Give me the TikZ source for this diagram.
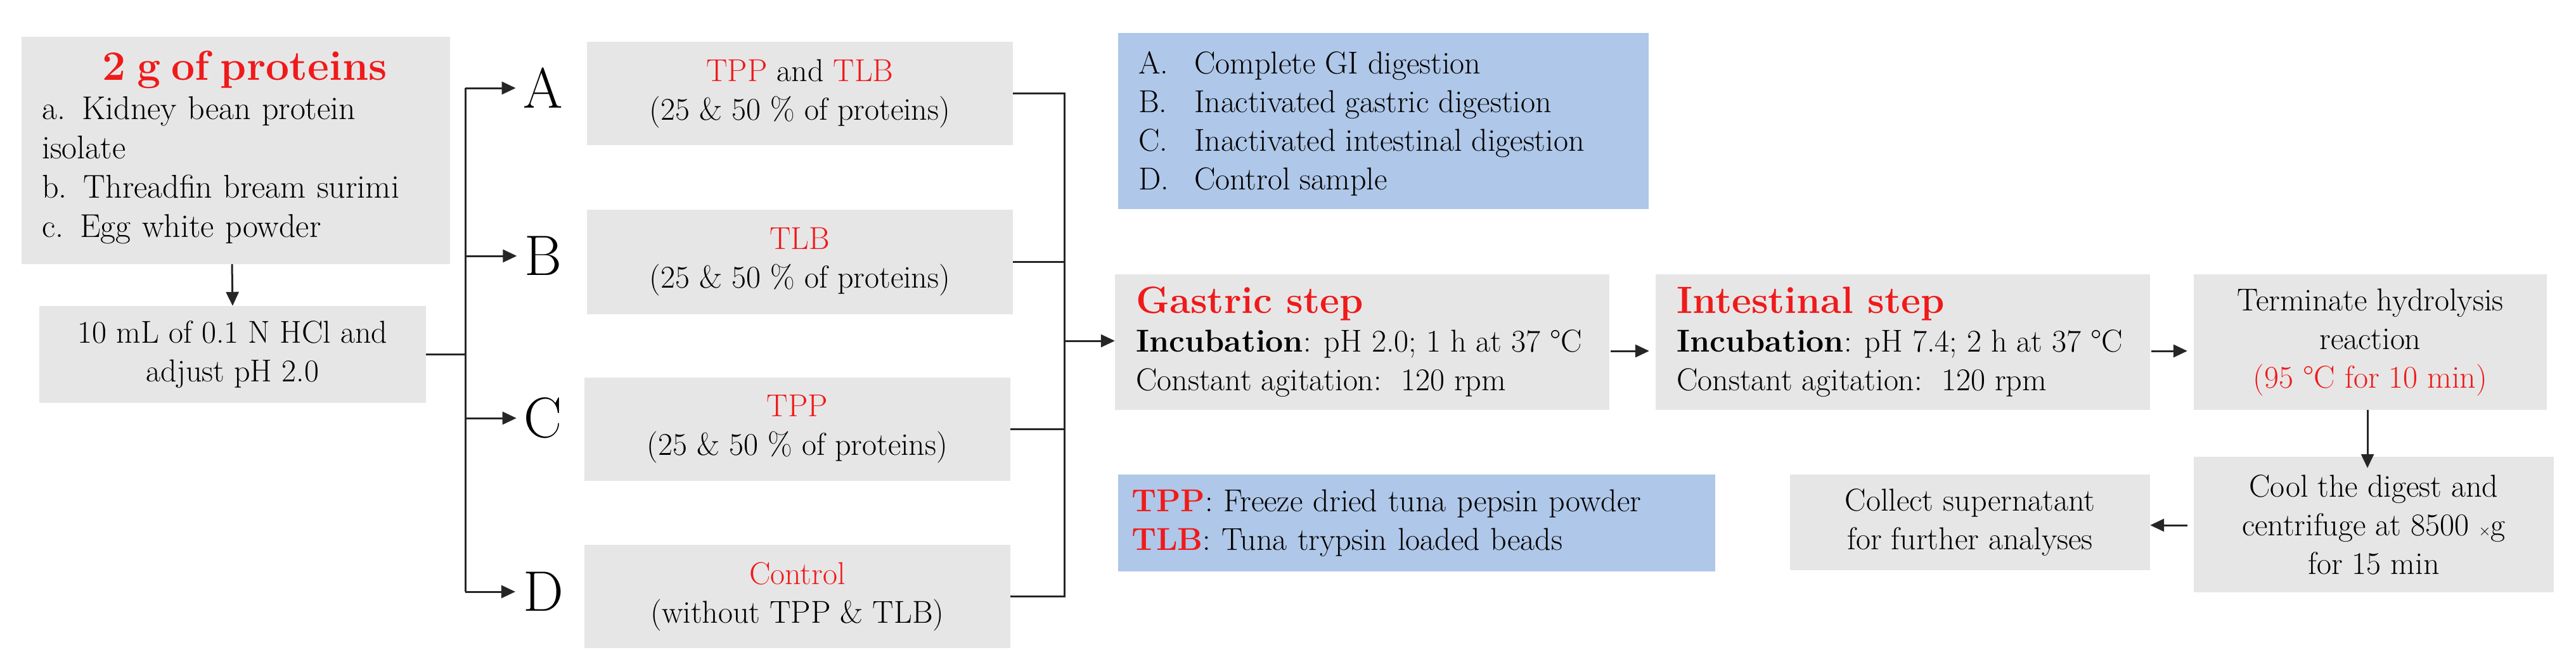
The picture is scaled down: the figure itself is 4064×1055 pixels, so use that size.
\documentclass[tikz,border=0pt]{standalone}
\usetikzlibrary{arrows.meta}
\definecolor{boxgray}{HTML}{E7E6E6}
\definecolor{boxblue}{HTML}{AFC7E8}
\definecolor{myred}{HTML}{F01A1A}
\newcommand{\fs}{\fontsize{50}{61}\selectfont}
\begin{document}
\begin{tikzpicture}[x=1pt,y=-1pt,
  box/.style={fill=boxgray,draw=none,inner sep=0pt,align=center,font=\fs},
  lbox/.style={fill=boxblue,draw=none,inner sep=0pt,font=\fs},
  letter/.style={font=\fontsize{90}{90}\selectfont,inner sep=0pt},
  conn/.style={line width=3pt,draw=black!85},
  arr/.style={conn,-{Triangle[length=22pt,width=20pt]}},
  red/.style={text=myred}]
\useasboundingbox (0,0) rectangle (4064,1055);
% left column
\node[box,minimum width=676,minimum height=359] (prot) at (372,237.5) {};
\node[font=\fontsize{52}{62}\selectfont,align=left,text width=640,anchor=north west,inner sep=0pt] (prott) at (66,80)
 {\centering{\fontsize{66}{74}\selectfont\bfseries\color{myred}2 g of proteins}\par
 \raggedright a. Kidney bean protein\\isolate\\b. Threadfin bream surimi\\c. Egg white powder};
\node[box,minimum width=610,minimum height=153] (hcl) at (367,559.5) {10 mL of 0.1 N HCl and\\adjust pH 2.0};
% letters
\node[letter] (la) at (857,139) {A};
\node[letter] (lb) at (857,404) {B};
\node[letter] (lc) at (857,660) {C};
\node[letter] (ld) at (857,934) {D};
% treatment boxes
\node[box,minimum width=672,minimum height=163] (ba) at (1262,147.5) {{\color{myred}TPP} and {\color{myred}TLB}\\(25 \& 50 \% of proteins)};
\node[box,minimum width=672,minimum height=165] (bb) at (1262,413.5) {{\color{myred}TLB}\\(25 \& 50 \% of proteins)};
\node[box,minimum width=672,minimum height=163] (bc) at (1258,677.5) {{\color{myred}TPP}\\(25 \& 50 \% of proteins)};
\node[box,minimum width=672,minimum height=163] (bd) at (1258,941.5) {{\color{myred}Control}\\(without TPP \& TLB)};
% legends
\node[lbox,minimum width=837,minimum height=278,anchor=center] (leg) at (2182.5,191) {};
\node[font=\fs,anchor=north west,inner sep=0pt] (legt) at (1796,74) {\begin{tabular}{@{}l@{\hspace{0.8em}}l@{}}A.&Complete GI digestion\\B.&Inactivated gastric digestion\\C.&Inactivated intestinal digestion\\D.&Control sample\end{tabular}};
\node[lbox,minimum width=942,minimum height=153,text width=900,align=left] (leg2) at (2235,825.5)
 {{\bfseries\color{myred}TPP}: Freeze dried tuna pepsin powder\\{\bfseries\color{myred}TLB}: Tuna trypsin loaded beads};
% steps
\node[box,minimum width=780,minimum height=214] (gas) at (2149,540) {};
\node[font=\fs,align=left,anchor=west,inner sep=0pt] at (1792,540)
 {{\fontsize{60}{66}\selectfont\bfseries\color{myred}Gastric step}\\\textbf{Incubation}: pH 2.0; 1 h at 37 \textdegree C\\Constant agitation:\ \ 120 rpm};
\node[box,minimum width=780,minimum height=214] (int) at (3002,540) {};
\node[font=\fs,align=left,anchor=west,inner sep=0pt] at (2645,540)
 {{\fontsize{60}{66}\selectfont\bfseries\color{myred}Intestinal step}\\\textbf{Incubation}: pH 7.4; 2 h at 37 \textdegree C\\Constant agitation:\ \ 120 rpm};
\node[box,minimum width=557,minimum height=214] (term) at (3739.5,540) {Terminate hydrolysis\\reaction\\{\color{myred}(95 \textdegree C for 10 min)}};
\node[box,minimum width=568,minimum height=214] (cool) at (3745,828) {Cool the digest and\\centrifuge at 8500 $\times$g\\for 15 min};
\node[box,minimum width=568,minimum height=151] (coll) at (3108,824.5) {Collect supernatant\\for further analyses};
% connectors
\coordinate (b1t) at (734,139);
\coordinate (b1m) at (734,559.5);
\coordinate (b1b) at (734,934);
\coordinate (b1c) at (734,660);
\coordinate (b1bb) at (734,404);
\draw[arr] (366,417) -- (hcl.north);
\draw[conn] (hcl.east) -- (b1m);
\draw[conn] (b1t) -- (b1b);
\draw[arr] (b1t) -- ([xshift=-12pt]la.west);
\draw[arr] (b1bb) -- ([xshift=-12pt]lb.west);
\draw[arr] (b1c) -- ([xshift=-12pt]lc.west);
\draw[arr] (b1b) -- ([xshift=-12pt]ld.west);
\coordinate (b2a) at (1679,147.5);
\coordinate (b2b) at (1679,413.5);
\coordinate (b2c) at (1679,677.5);
\coordinate (b2d) at (1679,941.5);
\coordinate (b2m) at (1679,538);
\draw[conn] (ba.east) -- (b2a) -- (b2d) -- (bd.east);
\draw[conn] (bb.east) -- (b2b);
\draw[conn] (bc.east) -- (b2c);
\draw[arr] (b2m) -- (gas.west |- b2m);
\draw[arr] ([xshift=2pt]gas.east |- 0,554) -- ([xshift=-10pt]int.west |- 0,554);
\draw[arr] ([xshift=2pt]int.east |- 0,554) -- ([xshift=-10pt]term.west |- 0,554);
\draw[arr] (term.south -| 3735,0) -- ([yshift=-18pt]cool.north -| 3735,0);
\draw[arr] ([xshift=-10pt]cool.west |- 0,829) -- (coll.east |- 0,829);
\end{tikzpicture}
\end{document}
